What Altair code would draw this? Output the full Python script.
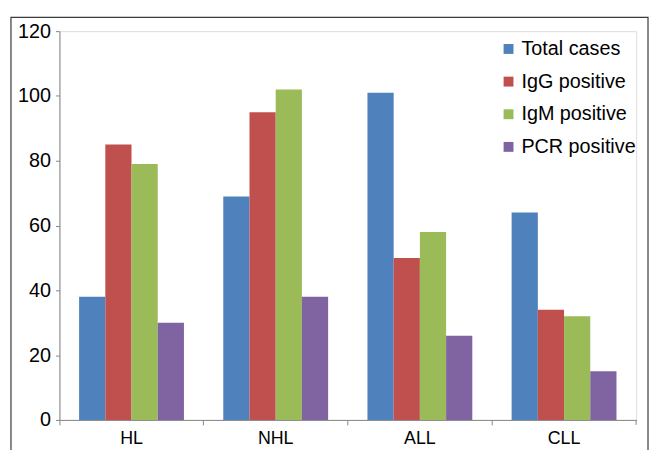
import altair as alt
import pandas as pd

categories = ["HL", "NHL", "ALL", "CLL"]
series = ["Total cases", "IgG positive", "IgM positive", "PCR positive"]
total_cases = [38, 69, 101, 64]
igg_positive = [85, 95, 50, 34]
igm_positive = [79, 102, 58, 32]
pcr_positive = [30, 38, 26, 15]
colors = ["#4F81BD", "#C0504D", "#9BBB59", "#8064A2"]
y_ticks = [0, 20, 40, 60, 80, 100, 120]

rows = []
for s, vals in zip(series, [total_cases, igg_positive, igm_positive, pcr_positive]):
    for c, v in zip(categories, vals):
        rows.append({"category": c, "series": s, "value": v})
df = pd.DataFrame(rows)

FONT = "Liberation Sans"
FS = 20
W, H = 583, 393

bars = alt.Chart(df).mark_bar().encode(
    x=alt.X("category:N", sort=categories, title=None,
            scale=alt.Scale(paddingInner=0, paddingOuter=0),
            axis=alt.Axis(labelAngle=0, bandPosition=0, domainColor="#868686",
                          tickColor="#868686", tickSize=5, labelPadding=5,
                          labelFontSize=18, labelColor="#000000", labelFont=FONT,
                          grid=False)),
    xOffset=alt.XOffset("series:N", sort=series,
                        scale=alt.Scale(paddingInner=0, paddingOuter=0.75)),
    y=alt.Y("value:Q", title=None,
            scale=alt.Scale(domain=[0, 120], nice=False),
            axis=alt.Axis(values=y_ticks, domainColor="#868686", tickColor="#868686",
                          tickSize=4, labelPadding=5, labelFontSize=FS,
                          labelColor="#000000", labelFont=FONT, grid=False)),
    color=alt.Color("series:N", sort=series,
                    scale=alt.Scale(domain=series, range=colors),
                    legend=alt.Legend(title=None, orient="none", legendX=444, legendY=8,
                                      symbolType="square", symbolSize=100,
                                      symbolStrokeWidth=0, labelFontSize=FS,
                                      labelFont=FONT, labelColor="#000000",
                                      labelOffset=3, rowPadding=13, padding=0)),
)

end_tick = alt.Chart(alt.Data(values=[{}])).mark_rule(color="#868686").encode(
    x=alt.value(W), y=alt.value(H), y2=alt.value(H + 5)
)

frame = alt.Chart(alt.Data(values=[{}])).mark_rect(
    filled=False, stroke="#3a3a3a", strokeWidth=1.2, clip=False
).encode(
    x=alt.value(-49), x2=alt.value(595), y=alt.value(-14), y2=alt.value(440)
)

chart = alt.layer(bars, end_tick, frame).properties(
    width=W, height=H,
    autosize=alt.AutoSizeParams(type="none"),
    padding={"left": 52, "top": 21, "right": 13, "bottom": 28},
).configure_view(strokeWidth=0).configure(background="white")

chart.save("out.html", embed_options={"renderer": "svg", "actions": False})
